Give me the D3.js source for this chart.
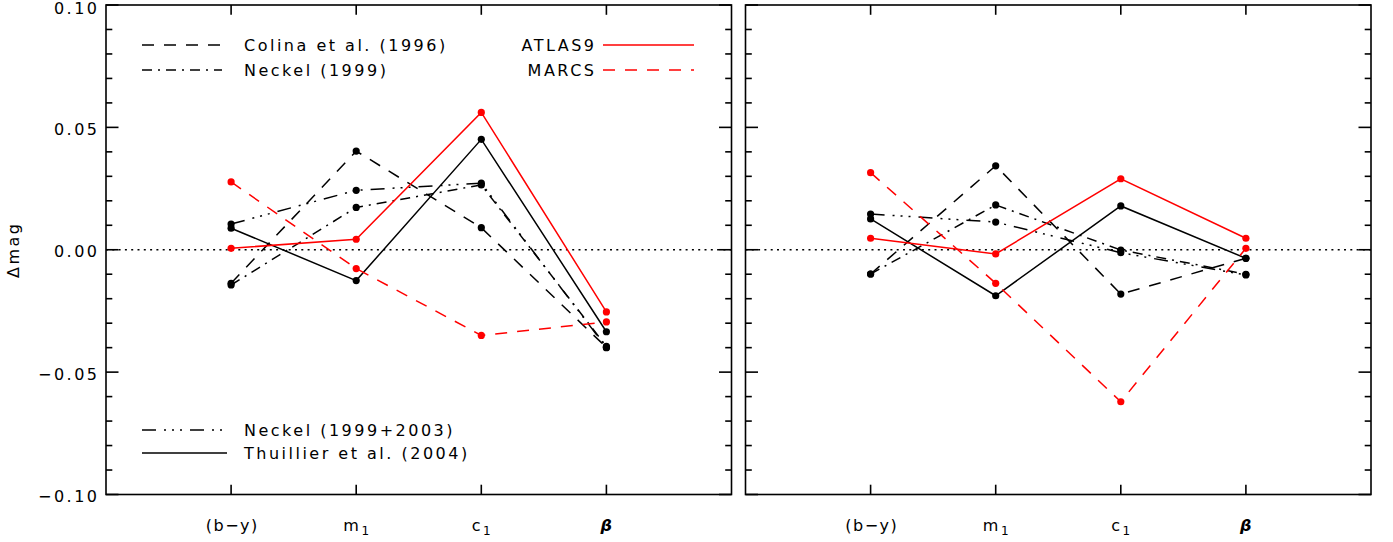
<!DOCTYPE html>
<html>
<head>
<meta charset="utf-8">
<script src="https://cdn.jsdelivr.net/npm/d3@7"></script>
<style>
  html, body { margin: 0; padding: 0; background: #fff; }
  svg text { font-family: "DejaVu Sans", sans-serif; font-size: 16px; letter-spacing: 2.5px; fill: #000; }
</style>
</head>
<body>
<svg id="chart" width="1393" height="542"></svg>
<script>
// ---- data ----
const categories = ["(b\u2212y)", "m1", "c1", "\u03b2"];
const yTicks = [-0.10, -0.05, 0.00, 0.05, 0.10];
const yTickLabels = ["\u22120.10", "\u22120.05", "0.00", "0.05", "0.10"];

// left panel
const colinaL     = [-0.0137, 0.0403, 0.0090, -0.0399];
const neckelL     = [-0.0144, 0.0173, 0.0265, -0.0395];
const neckel03L   = [ 0.0105, 0.0243, 0.0272, -0.0400];
const thuillierL  = [ 0.0088, -0.0126, 0.0451, -0.0335];
const atlasL      = [ 0.0006, 0.0043, 0.0561, -0.0254];
const marcsL      = [ 0.0277, -0.0077, -0.0350, -0.0295];
// right panel
const colinaR     = [-0.0099, 0.0343, -0.0181, -0.0035];
const neckelR     = [-0.0099, 0.0183, -0.0001, -0.0100];
const neckel03R   = [ 0.0146, 0.0113, -0.0012, -0.0103];
const thuillierR  = [ 0.0126, -0.0188, 0.0179, -0.0035];
const atlasR      = [ 0.0047, -0.0017, 0.0290, 0.0047];
const marcsR      = [ 0.0315, -0.0137, -0.0621, 0.0006];

const seriesNames = ["Colina et al. (1996)", "Neckel (1999)", "Neckel (1999+2003)", "Thuillier et al. (2004)", "ATLAS9", "MARCS"];

// ---- styles ----
const styles = {
  "Colina et al. (1996)":    {color: "#000", dash: "12,10"},
  "Neckel (1999)":           {color: "#000", dash: "10,6,2,6"},
  "Neckel (1999+2003)":      {color: "#000", dash: "14,8,2,6,2,6,2,8"},
  "Thuillier et al. (2004)": {color: "#000", dash: null},
  "ATLAS9":                  {color: "#ff0000", dash: null},
  "MARCS":                   {color: "#ff0000", dash: "12,10"}
};

const svg = d3.select("#chart");
const plotTop = 5, plotBottom = 494.5;
const y = d3.scaleLinear().domain([-0.10, 0.10]).range([plotBottom, plotTop]);
const line = d3.line();

function panel(x0, x1, data, showLabels) {
  const x = d3.scaleLinear().domain([0, 5]).range([x0, x1]);
  const g = svg.append("g");
  // zero dotted line
  g.append("line").attr("x1", x0).attr("x2", x1).attr("y1", y(0)).attr("y2", y(0))
    .attr("stroke", "#000").attr("stroke-width", 1.6).attr("stroke-dasharray", "2,4.3");

  // series
  data.forEach(([name, vals]) => {
    const st = styles[name];
    const pts = vals.map((v, i) => [x(i + 1), y(v)]);
    g.append("path").attr("d", line(pts)).attr("fill", "none")
      .attr("stroke", st.color).attr("stroke-width", 1.5)
      .attr("stroke-dasharray", st.dash);
    g.selectAll(null).data(pts).enter().append("circle")
      .attr("cx", d => d[0]).attr("cy", d => d[1]).attr("r", 3.6).attr("fill", st.color);
  });

  // frame
  g.append("rect").attr("x", x0).attr("y", plotTop).attr("width", x1 - x0).attr("height", plotBottom - plotTop)
    .attr("fill", "none").attr("stroke", "#000").attr("stroke-width", 1.6);

  // y ticks (major + minor), both sides
  const minor = d3.range(-10, 11, 1).map(v => v / 100);
  minor.forEach((v, i) => {
    const isMajor = (i % 5) === 0;
    const len = isMajor ? 12.5 : 6.3;
    g.append("line").attr("x1", x0).attr("x2", x0 + len).attr("y1", y(v)).attr("y2", y(v))
      .attr("stroke", "#000").attr("stroke-width", 1.6);
    g.append("line").attr("x1", x1).attr("x2", x1 - len).attr("y1", y(v)).attr("y2", y(v))
      .attr("stroke", "#000").attr("stroke-width", 1.6);
  });
  // x ticks top & bottom
  categories.forEach((c, i) => {
    g.append("line").attr("x1", x(i + 1)).attr("x2", x(i + 1)).attr("y1", plotBottom).attr("y2", plotBottom - 9.8)
      .attr("stroke", "#000").attr("stroke-width", 1.6);
    g.append("line").attr("x1", x(i + 1)).attr("x2", x(i + 1)).attr("y1", plotTop).attr("y2", plotTop + 9.8)
      .attr("stroke", "#000").attr("stroke-width", 1.6);
  });

  // x labels
  categories.forEach((c, i) => {
    const t = g.append("text").attr("x", x(i + 1) + 1.2).attr("y", 531).attr("text-anchor", "middle");
    if (c === "m1" || c === "c1") {
      t.append("tspan").text(c[0]);
      t.append("tspan").attr("dy", 4).style("font-size", "12px").text(c[1]);
    } else if (c === "\u03b2") {
      t.style("font-weight", "bold").style("font-style", "italic").text(c);
    } else {
      t.style("letter-spacing", "1.5px").text(c);
    }
  });

  if (showLabels) {
    yTicks.forEach((v, i) => {
      g.append("text").attr("x", x0 - 9 + 2.5).attr("y", Math.max(y(v) + 7.6, 14))
        .attr("text-anchor", "end").text(yTickLabels[i]);
    });
    g.append("text").attr("transform", `translate(19,${y(0)}) rotate(-90)`)
      .attr("text-anchor", "middle").text("\u0394mag");
  }
  return x;
}

panel(106, 731.5, [
  ["Colina et al. (1996)", colinaL],
  ["Neckel (1999)", neckelL],
  ["Neckel (1999+2003)", neckel03L],
  ["Thuillier et al. (2004)", thuillierL],
  ["ATLAS9", atlasL],
  ["MARCS", marcsL]
], true);

panel(745.5, 1371, [
  ["Colina et al. (1996)", colinaR],
  ["Neckel (1999)", neckelR],
  ["Neckel (1999+2003)", neckel03R],
  ["Thuillier et al. (2004)", thuillierR],
  ["ATLAS9", atlasR],
  ["MARCS", marcsR]
], false);

// ---- legends ----
const leg = svg.append("g");
function legendLine(xa, xb, yy, name) {
  const st = styles[name];
  leg.append("line").attr("x1", xa).attr("x2", xb).attr("y1", yy).attr("y2", yy)
    .attr("stroke", st.color).attr("stroke-width", 1.5).attr("stroke-dasharray", st.dash);
}
// top-left
legendLine(142, 222, 45, seriesNames[0]);
leg.append("text").attr("x", 244).attr("y", 51).text(seriesNames[0]);
legendLine(142, 222, 70, seriesNames[1]);
leg.append("text").attr("x", 244).attr("y", 76).text(seriesNames[1]);
// top-right (models)
leg.append("text").attr("x", 594 + 2.5).attr("y", 51).attr("text-anchor", "end").text(seriesNames[4]);
legendLine(603, 694, 45, seriesNames[4]);
leg.append("text").attr("x", 594 + 2.5).attr("y", 76).attr("text-anchor", "end").text(seriesNames[5]);
legendLine(603, 694, 70, seriesNames[5]);
// bottom-left
legendLine(142, 227, 430, seriesNames[2]);
leg.append("text").attr("x", 244).attr("y", 436).text(seriesNames[2]);
legendLine(142, 227, 453, seriesNames[3]);
leg.append("text").attr("x", 244).attr("y", 459).text(seriesNames[3]);
</script>
</body>
</html>
